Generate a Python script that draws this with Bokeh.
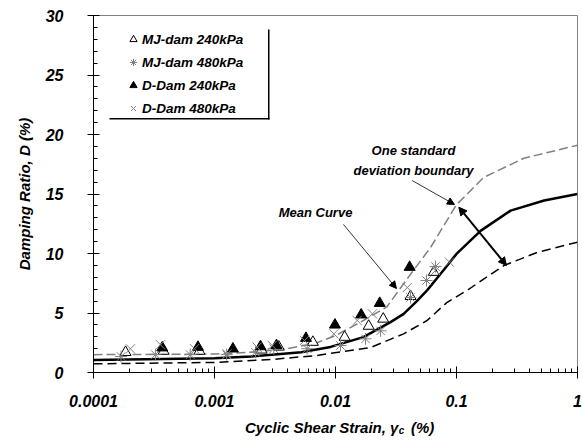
from bokeh.plotting import figure
from bokeh.models import (FixedTicker, CustomJSTickFormatter, Legend, LegendItem,
                          Arrow, NormalHead, Label, BoxAnnotation, Range1d, LogAxis)
from bokeh.embed import file_html
from bokeh.resources import INLINE

FONT = "Liberation Sans"

# ---------------- data ----------------
mj240_x = [1.84e-4, 3.8e-4, 7.5e-4, 2.45e-3, 3.4e-3, 6.5e-3, 0.0119, 0.0188, 0.0248, 0.0417, 0.0649]
mj240_y = [1.7, 1.8, 1.8, 1.9, 2.15, 2.55, 2.97, 3.9, 4.5, 6.4, 8.43]

mj480_x = [1.69e-4, 3.25e-4, 6.3e-4, 1.26e-3, 2.18e-3, 3.09e-3, 5.83e-3, 0.011, 0.0177, 0.0236, 0.0417, 0.0565, 0.067]
mj480_y = [1.34, 1.5, 1.5, 1.5, 1.7, 2.0, 2.0, 2.27, 2.83, 3.5, 6.3, 7.73, 8.9]

dd240_x = [3.7e-4, 7.3e-4, 1.42e-3, 2.4e-3, 3.25e-3, 5.7e-3, 9.9e-3, 0.0163, 0.0232, 0.041]
dd240_y = [2.08, 2.13, 1.99, 2.18, 2.27, 2.88, 4.0, 4.85, 5.82, 8.85]

dd480_x = [2.02e-4, 3.58e-4, 6.84e-4, 1.27e-3, 2.25e-3, 3.0e-3, 5.54e-3, 9.7e-3, 0.0151, 0.0202, 0.0392, 0.067, 0.0875]
dd480_y = [1.99, 2.33, 2.0, 1.57, 2.13, 2.27, 2.69, 3.25, 4.37, 4.93, 7.14, 8.57, 9.27]

mean_x = [1e-4, 1e-3, 2e-3, 5.2e-3, 9.1e-3, 1.7e-2, 2.85e-2, 3.66e-2, 4.7e-2, 5.71e-2, 7.4e-2, 0.1, 0.158, 0.28, 0.53, 1.0]
mean_y = [1.05, 1.2, 1.35, 1.7, 2.15, 2.97, 4.23, 4.93, 6.0, 6.9, 8.3, 9.97, 11.9, 13.6, 14.45, 15.0]

upper_x = [1e-4, 1e-3, 2e-3, 4e-3, 7e-3, 1e-2, 1.7e-2, 2.65e-2, 4.2e-2, 6.1e-2, 0.1, 0.168, 0.36, 1.0]
upper_y = [1.5, 1.55, 1.7, 2.0, 2.5, 3.1, 4.37, 5.5, 8.3, 10.5, 14.1, 16.4, 18.0, 19.1]

lower_x = [1e-4, 1e-3, 3e-3, 7e-3, 1.95e-2, 3.66e-2, 5.71e-2, 8.37e-2, 0.122, 0.248, 0.467, 1.0]
lower_y = [0.73, 0.85, 1.1, 1.43, 2.1, 3.25, 4.37, 5.9, 6.9, 9.0, 10.1, 10.95]

x_ticks = [1e-4, 1e-3, 1e-2, 1e-1, 1.0]
x_tick_labels = ["0.0001", "0.001", "0.01", "0.1", "1"]
y_ticks = [0, 5, 10, 15, 20, 25, 30]

# annotation anchor points (data space)
mean_arrow = (0.01164, 12.44, 0.0319, 7.06)
sd_arrow = (0.0430, 16.13, 0.0962, 14.12)
range_arrow = (0.1045, 13.89, 0.259, 8.99)
subscript_x = 0.0351

GRAY = "#808080"

p = figure(width=582, height=442, x_axis_type="log",
           x_range=Range1d(1e-4, 1.0), y_range=Range1d(0, 30),
           output_backend="svg", toolbar_location=None,
           min_border_left=93, min_border_right=5, min_border_top=15, min_border_bottom=70)
p.background_fill_color = "white"
p.border_fill_color = "white"
p.outline_line_color = GRAY
p.outline_line_width = 1
p.xgrid.visible = False
p.ygrid.visible = False

# curves
p.line(upper_x, upper_y, line_color=GRAY, line_width=1.5, line_dash="9 4")
p.line(lower_x, lower_y, line_color="black", line_width=1.5, line_dash="9 5")
p.line(mean_x, mean_y, line_color="black", line_width=2.5)

# markers
r1 = p.scatter(mj240_x, mj240_y, marker="triangle", size=11, fill_color="white",
               line_color="black", line_width=1)
r2 = p.scatter(mj480_x, mj480_y, marker="asterisk", size=12, line_color=GRAY, line_width=1)
r3 = p.scatter(dd240_x, dd240_y, marker="triangle", size=11, fill_color="black",
               line_color="black")
r4 = p.scatter(dd480_x, dd480_y, marker="x", size=13, line_color=GRAY, line_width=1)

legend = Legend(items=[
    LegendItem(label="MJ-dam 240kPa", renderers=[r1]),
    LegendItem(label="MJ-dam 480kPa", renderers=[r2]),
    LegendItem(label="D-Dam 240kPa", renderers=[r3]),
    LegendItem(label="D-Dam 480kPa", renderers=[r4]),
], location=(31, 254))
legend.border_line_color = None
legend.background_fill_alpha = 0
legend.padding = 0
legend.margin = 0
legend.spacing = 3
legend.glyph_width = 18
legend.glyph_height = 20
legend.label_height = 20
legend.label_standoff = 0
legend.label_text_font = FONT
legend.label_text_font_style = "bold italic"
legend.label_text_font_size = "13.5px"
legend.label_text_color = "black"
p.add_layout(legend)

# legend shadow lines
p.add_layout(BoxAnnotation(left=16, right=176, bottom=253, top=254.5,
                           left_units="screen", right_units="screen",
                           top_units="screen", bottom_units="screen",
                           fill_color="black", fill_alpha=1, line_color=None))
p.add_layout(BoxAnnotation(left=174.5, right=176, bottom=253, top=343,
                           left_units="screen", right_units="screen",
                           top_units="screen", bottom_units="screen",
                           fill_color="black", fill_alpha=1, line_color=None))

# arrows
p.add_layout(Arrow(x_start=mean_arrow[0], y_start=mean_arrow[1], x_end=mean_arrow[2], y_end=mean_arrow[3],
                   line_color="#333333", line_width=1,
                   end=NormalHead(size=7, fill_color="black", line_color="black")))
p.add_layout(Arrow(x_start=sd_arrow[0], y_start=sd_arrow[1], x_end=sd_arrow[2], y_end=sd_arrow[3],
                   line_color="#333333", line_width=1,
                   end=NormalHead(size=7, fill_color="black", line_color="black")))
p.add_layout(Arrow(x_start=range_arrow[0], y_start=range_arrow[1], x_end=range_arrow[2], y_end=range_arrow[3],
                   line_color="black", line_width=2,
                   start=NormalHead(size=8, fill_color="black", line_color="black"),
                   end=NormalHead(size=8, fill_color="black", line_color="black")))

def lab(x, y, t, size="13px", align="center"):
    l = Label(x=x, y=y, text=t, text_font=FONT,
              text_font_style="bold italic", text_font_size=size, text_color="black",
              text_align=align, text_baseline="middle")
    p.add_layout(l)

lab(0.0441, 18.65, "One standard")
lab(0.0441, 16.95, "deviation boundary")
lab(0.00684, 13.45, "Mean Curve")

# axes
xa = p.xaxis[0]
xa.ticker = FixedTicker(ticks=x_ticks,
                        minor_ticks=[m * d for d in [1e-4, 1e-3, 1e-2, 1e-1] for m in range(2, 10)])
xa.formatter = CustomJSTickFormatter(args=dict(t=x_ticks, l=x_tick_labels), code="""
    for (let i = 0; i < t.length; i++) { if (Math.abs(Math.log10(tick) - Math.log10(t[i])) < 1e-6) return l[i]; }
    return '';
""")
ya = p.yaxis[0]
ya.ticker = FixedTicker(ticks=y_ticks, minor_ticks=list(range(0, 31)))

for ax in (xa, ya):
    ax.axis_line_color = "black"
    ax.major_tick_line_color = "black"
    ax.minor_tick_line_color = "black"
    ax.major_tick_in = 6
    ax.major_tick_out = 6
    ax.minor_tick_in = 4
    ax.minor_tick_out = 0
    ax.major_label_text_font = FONT
    ax.major_label_text_font_style = "bold italic"
    ax.major_label_text_font_size = "16px"
    ax.major_label_text_color = "black"
    ax.axis_label_text_font = FONT
    ax.axis_label_text_font_style = "bold italic"
    ax.axis_label_text_font_size = "15px"
    ax.axis_label_text_color = "black"

xa.major_label_standoff = 16
xa.axis_label = "\u00a0\u00a0Cyclic Shear Strain, γ\u00a0\u00a0\u00a0(%)"
xa.axis_label_standoff = 9
ya.major_label_standoff = 24
ya.axis_label = "Damping Ratio, D (%)"
ya.axis_label_standoff = 10

# subscript "c" of the strain symbol: a label-only axis below the main x axis
sub_ax = LogAxis(ticker=FixedTicker(ticks=[subscript_x]),
                 formatter=CustomJSTickFormatter(code="return 'c';"),
                 axis_line_color=None, major_tick_line_color=None, minor_tick_line_color=None,
                 major_tick_in=0, major_tick_out=0, minor_tick_in=0, minor_tick_out=0,
                 major_label_standoff=-14,
                 major_label_text_font=FONT, major_label_text_font_style="bold italic",
                 major_label_text_font_size="10px", major_label_text_color="black")
p.add_layout(sub_ax, "below")

open("out.html", "w").write(file_html(p, INLINE))
